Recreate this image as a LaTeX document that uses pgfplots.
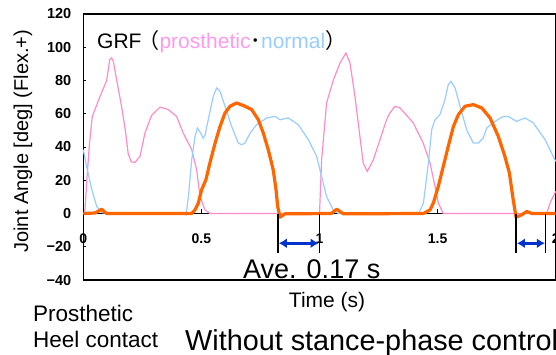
\documentclass[border=0pt]{standalone}
\usepackage{pgfplots}
\pgfplotsset{compat=1.18}
\usepackage{fontspec}
\setmainfont{Liberation Sans}
\newfontfamily\cjk{Noto Sans CJK JP}
\usetikzlibrary{arrows.meta}
\definecolor{pinkc}{RGB}{255,140,200}
\definecolor{bluec}{RGB}{153,204,255}
\definecolor{orangec}{RGB}{255,102,0}
\definecolor{protext}{RGB}{255,153,238}
\definecolor{normtext}{RGB}{153,204,255}
\definecolor{arrowc}{RGB}{0,51,204}
\begin{document}
\begin{tikzpicture}[x=1pt,y=1pt]
\useasboundingbox (0,0) rectangle (556,-354);
\begin{axis}[
  at={(83.3pt,-280pt)}, anchor=south west,
  scale only axis, width=472.4pt, height=266pt,
  xmin=0, xmax=2, ymin=-40, ymax=120,
  axis line style={line width=1.2pt, black},
  xtick={0,0.5,1,1.5,2}, xticklabels={0,0.5,1,1.5,2},
  x tick style={draw=none},
  xticklabel style={font=\fontsize{14}{14}\selectfont\bfseries, anchor=center, yshift=41.5pt},
  ytick={-40,-20,0,20,40,60,80,100,120},
  yticklabels={−40,−20,0,20,40,60,80,100,120},
  ytick pos=left, tick align=inside, major tick length=3pt,
  y tick style={black, line width=0.6pt},
  yticklabel style={font=\fontsize{14.5}{14.5}\selectfont\bfseries, xshift=-8.5pt},
  ylabel={Joint Angle [deg] (Flex.+)},
  ylabel style={font=\fontsize{20}{20}\selectfont, at={(axis description cs:-0.128,0.522)}, anchor=center},
  xlabel={Time (s)},
  xlabel style={font=\fontsize{21}{21}\selectfont, at={(axis description cs:0.516,-0.102)}, anchor=base},
  clip=false,
]
% zero line and small x ticks
\draw[black, line width=0.8pt] (axis cs:0,0) -- (axis cs:2,0);
\draw[black, line width=0.8pt] (axis cs:0.5,0) -- (axis cs:0.5,2.5);
\draw[black, line width=0.8pt] (axis cs:1,0) -- (axis cs:1,2.5);
\draw[black, line width=0.8pt] (axis cs:1.5,0) -- (axis cs:1.5,2.5);
% prosthetic GRF
\addplot[pinkc, line width=1.2pt, mark=none] coordinates {
(0,0) (0.006,0) (0.015,20) (0.025,40) (0.038,58.4) (0.071,70.5) (0.099,80) (0.112,92.6) (0.120,93.5) (0.127,91.6) (0.141,80.5) (0.160,66) (0.167,60) (0.178,50) (0.190,36) (0.203,31) (0.219,30.8) (0.240,34.3) (0.261,48.4) (0.289,59) (0.325,64) (0.360,62.5) (0.395,58.4) (0.423,48.4) (0.459,38.4) (0.480,26.3) (0.494,10.2) (0.515,2.2) (0.536,0)
(1.0,0) (1.009,32.3) (1.030,66.5) (1.059,80.5) (1.087,90.6) (1.112,96.6) (1.129,90.6) (1.150,70.5) (1.171,46.4) (1.185,30.4) (1.202,25.3) (1.228,32.3) (1.256,44.4) (1.284,56.4) (1.298,60.5) (1.320,64.5) (1.341,63.5) (1.397,54.5) (1.439,42.4) (1.468,30.4) (1.489,16.3) (1.503,6.3) (1.524,0) (1.962,0) (1.976,6.3) (2.0,13.3)
};
% normal GRF
\addplot[bluec, line width=1.2pt, mark=none] coordinates {
(0,38.4) (0.014,28.3) (0.036,14.3) (0.057,4.2) (0.078,0.6) (0.1,0) (0.43,0) (0.435,-0.8) (0.445,10.2) (0.459,32.3) (0.473,46.4) (0.483,51.4) (0.497,48.4) (0.507,45.4) (0.515,47) (0.529,56.4) (0.550,70.5) (0.565,75.5) (0.579,73.5) (0.600,64.5) (0.628,52.4) (0.656,42.4) (0.671,41.4) (0.685,42.4) (0.706,48.4) (0.734,53.4) (0.777,57.5) (0.812,58.4) (0.833,56.4) (0.868,57.5) (0.910,53.4) (0.953,44.4) (0.988,34.3) (1.009,22.3) (1.030,10.2) (1.058,2.2) (1.08,0)
(1.42,0) (1.44,6.3) (1.461,30.4) (1.475,50.4) (1.489,56.4) (1.510,59.5) (1.531,68.5) (1.545,77.5) (1.557,79.5) (1.574,75.5) (1.595,64.5) (1.623,50.4) (1.651,42.4) (1.672,42.4) (1.693,45.4) (1.708,51.4) (1.743,55.4) (1.778,58.4) (1.799,58.4) (1.834,55.4) (1.870,57.5) (1.905,54.5) (1.955,44.4) (2.0,31.3)
};
% joint angle
\addplot[orangec, line width=3.2pt, mark=none, line join=round] coordinates {
(0,0) (0.05,0.3) (0.065,1.5) (0.078,2.6) (0.09,1) (0.099,0) (0.459,0) (0.473,2.2) (0.487,6.3) (0.501,14.3) (0.519,20.3) (0.536,30.4) (0.558,42.4) (0.579,52.4) (0.600,60.5) (0.621,64.5) (0.649,66.5) (0.685,64.5) (0.713,62.5) (0.741,56.4) (0.762,48.4) (0.783,38.4) (0.804,26.3) (0.816,14.3) (0.823,4.2) (0.833,-2.2) (0.854,-0.2) (1.05,0) (1.073,2.6) (1.101,-0.2) (1.44,0) (1.468,2.2) (1.482,6.3) (1.503,16.3) (1.524,28.3) (1.545,40.4) (1.567,52.4) (1.588,59.5) (1.616,64.5) (1.651,65.5) (1.687,63.5) (1.722,57.5) (1.757,46.4) (1.785,34.3) (1.804,24.3) (1.818,10.2) (1.832,-2.2) (1.856,-0.8) (1.877,1.2) (1.90,0) (2.0,0)
};
% interval markers
\draw[black, line width=1.2pt] (axis cs:0.824,0) -- (axis cs:0.824,-23.8);
\draw[black, line width=1.2pt] (axis cs:1.0,0) -- (axis cs:1.0,-23.8);
\draw[black, line width=1.2pt] (axis cs:1.832,0) -- (axis cs:1.832,-23.8);
\draw[black, line width=1.2pt] (axis cs:1.958,0) -- (axis cs:1.958,-23.8);
\draw[arrowc, line width=2.6pt, {Latex[length=8pt,width=10pt]}-{Latex[length=8pt,width=10pt]}] (axis cs:0.828,-17.9) -- (axis cs:0.996,-17.9);
\draw[arrowc, line width=2.6pt, {Latex[length=8pt,width=10pt]}-{Latex[length=8pt,width=10pt]}] (axis cs:1.836,-17.9) -- (axis cs:1.954,-17.9);
\end{axis}
\node[anchor=base west, inner sep=0, font=\fontsize{21}{21}\selectfont] at (97,-48.5) {GRF\hspace{-3pt}{\cjk （}\textcolor{protext}{prosthetic}{\cjk ･}\textcolor{normtext}{normal}{\cjk ）}};
\node[anchor=base west, inner sep=0, font=\fontsize{27}{27}\selectfont] at (243,-278) {Ave. 0.17 s};
\node[anchor=base west, inner sep=0, font=\fontsize{22.5}{22.5}\selectfont] at (33,-321.5) {Prosthetic};
\node[anchor=base west, inner sep=0, font=\fontsize{22.5}{22.5}\selectfont] at (33,-347) {Heel contact};
\node[anchor=base west, inner sep=0, font=\fontsize{28.8}{28.8}\selectfont] at (185,-350) {Without stance-phase control};
\end{tikzpicture}
\end{document}
